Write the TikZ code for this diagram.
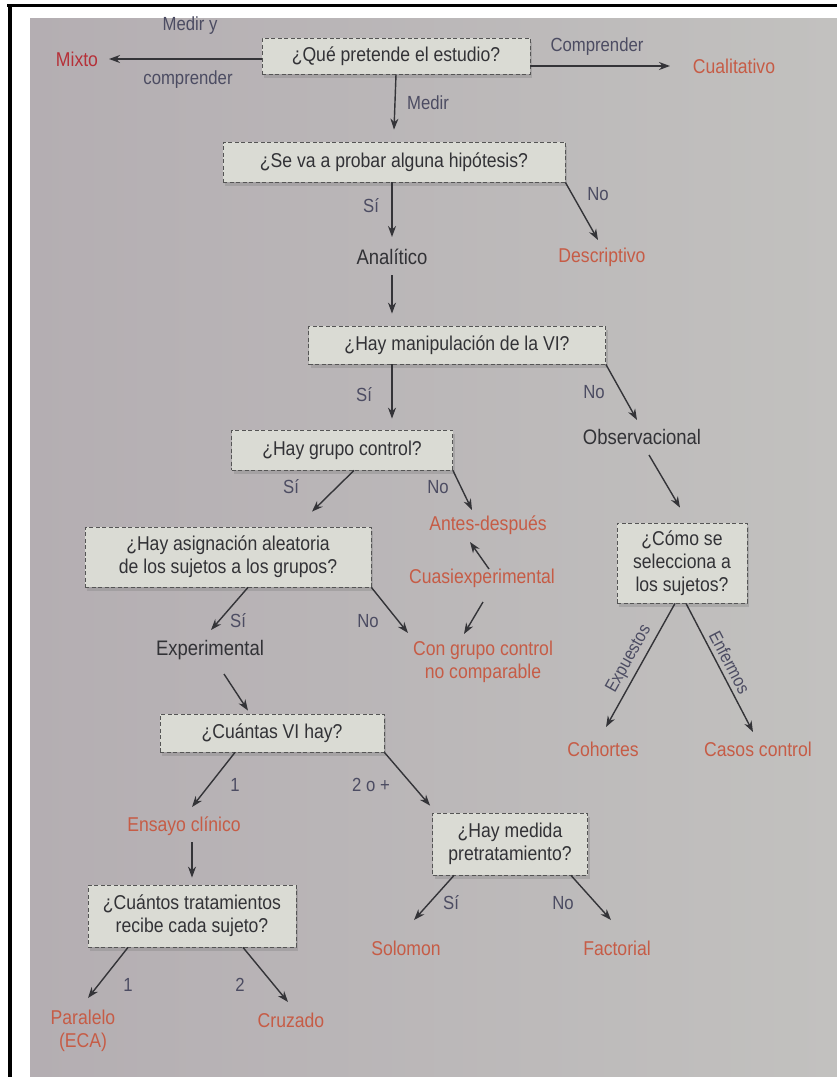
\documentclass[tikz,border=0pt]{standalone}
\usepackage{fontspec}
\setmainfont{Liberation Sans}[FakeStretch=0.88]
\usetikzlibrary{arrows.meta,shadows,calc}
\definecolor{fondoizq}{RGB}{180,174,178}
\definecolor{fondoder}{RGB}{194,193,191}
\definecolor{caja}{RGB}{218,219,212}
\definecolor{borde}{RGB}{85,85,85}
\definecolor{tinta}{RGB}{50,50,54}
\definecolor{rojo}{RGB}{198,92,70}
\definecolor{rojomixto}{RGB}{182,48,56}
\definecolor{rama}{RGB}{76,76,98}
\definecolor{flechagris}{RGB}{52,52,56}
\begin{document}
\begin{tikzpicture}[x=1pt,y=-1pt,
	pregunta/.style={draw=borde,dash pattern=on 4pt off 2.5pt,line width=.8pt,fill=caja,align=center,text=tinta,font=\fontsize{20}{23}\selectfont,drop shadow={shadow xshift=2pt,shadow yshift=-4pt,opacity=.35}},
	tipo/.style={text=rojo,align=center,font=\fontsize{20}{23}\selectfont},
	clase/.style={text=tinta,font=\fontsize{21}{23}\selectfont},
	rotulo/.style={text=rama,font=\fontsize{19}{21}\selectfont},
	flecha/.style={draw=flechagris,line width=1.4pt,-{Stealth[length=11pt,width=8pt]}}]
	\useasboundingbox (0,0) rectangle (837,1077);
	\fill[white] (0,0) rectangle (837,1077);
	\shade[left color=fondoizq,right color=fondoder] (30,18) rectangle (837,1077);
	\draw[line width=3pt] (7,5) -- (837,5);
	\draw[line width=4pt] (9.5,5) -- (9.5,1077);

	\node[pregunta,minimum width=268,minimum height=36] (q1) at (396,56) {¿Qué pretende el estudio?};
	\node[pregunta,minimum width=342,minimum height=40] (q2) at (394,162) {¿Se va a probar alguna hipótesis?};
	\node[pregunta,minimum width=297,minimum height=38] (q3) at (457,345) {¿Hay manipulación de la VI?};
	\node[pregunta,minimum width=221,minimum height=40] (q4) at (342,450) {¿Hay grupo control?};
	\node[pregunta,minimum width=286,minimum height=60] (q5) at (228,557) {¿Hay asignación aleatoria\\de los sujetos a los grupos?};
	\node[pregunta,minimum width=130,minimum height=80] (q6) at (682,563) {¿Cómo se\\selecciona a\\los sujetos?};
	\node[pregunta,minimum width=224,minimum height=38] (q7) at (272,733) {¿Cuántas VI hay?};
	\node[pregunta,minimum width=155,minimum height=62] (q8) at (510,844) {¿Hay medida\\pretratamiento?};
	\node[pregunta,minimum width=208,minimum height=62] (q9) at (192,916) {¿Cuántos tratamientos\\recibe cada sujeto?};

	\node[tipo,text=rojomixto] (mixto) at (77,59) {Mixto};
	\node[tipo] (cual) at (734,66) {Cualitativo};
	\node[tipo] (desc) at (602,257) {Descriptivo};
	\node[tipo] (antes) at (488,525) {Antes-después};
	\node[tipo] (cuasi) at (482,578) {Cuasiexperimental};
	\node[tipo] (con) at (483,662) {Con grupo control\\no comparable};
	\node[tipo] (coh) at (603,749) {Cohortes};
	\node[tipo] (cas) at (758,749) {Casos control};
	\node[tipo] (ens) at (184,826) {Ensayo clínico};
	\node[tipo] (sol) at (406,948) {Solomon};
	\node[tipo] (fac) at (617,948) {Factorial};
	\node[tipo] (par) at (83,1031) {Paralelo\\(ECA)};
	\node[tipo] (cru) at (291,1020) {Cruzado};

	\node[clase] (anal) at (392,257) {Analítico};
	\node[clase] (obs) at (642,437) {Observacional};
	\node[clase] (exp) at (210,650) {Experimental};

	\node[rotulo] (lmedy) at (190,26) {Medir y};
	\node[rotulo] (lcomp) at (188,80) {comprender};
	\node[rotulo] (lcompr) at (597,47) {Comprender};
	\node[rotulo] (lmedir) at (428,103) {Medir};
	\node[rotulo] (lsi1) at (371,206) {Sí};
	\node[rotulo] (lno1) at (598,194) {No};
	\node[rotulo] (lsi2) at (364,395) {Sí};
	\node[rotulo] (lno2) at (594,392) {No};
	\node[rotulo] (lsi3) at (291,487) {Sí};
	\node[rotulo] (lno3) at (438,487) {No};
	\node[rotulo] (lsi4) at (238,621) {Sí};
	\node[rotulo] (lno4) at (368,621) {No};
	\node[rotulo] (luna) at (235,785) {1};
	\node[rotulo] (ldos) at (371,785) {2 o +};
	\node[rotulo] (lsi5) at (451,903) {Sí};
	\node[rotulo] (lno5) at (563,903) {No};
	\node[rotulo] (lun) at (128,985) {1};
	\node[rotulo] (ldoble) at (240,985) {2};

	\draw[flecha] ($(q1.west)+(0,3)$) -- ($(mixto)+(32,0)$);
	\draw[flecha] ($(q1.east)+(0,10)$) -- ($(cual)+(-64,0)$);
	\draw[flecha] (q1.south) -- ($(q2.north)+(0,-12)$);
	\draw[flecha] (q2.south -| anal) -- ($(anal)+(0,-20)$);
	\draw[flecha] (q2.south east) -- ($(desc)+(-4,-17)$);
	\draw[flecha] ($(anal)+(0,18)$) -- ($(q3.north -| anal)+(0,-12)$);
	\draw[flecha] (q3.south -| anal) -- ($(q4.north -| anal)+(0,-11)$);
	\draw[flecha] (q3.south east) -- ($(obs)+(-5,-17)$);
	\draw[flecha] ($(obs)+(7,18)$) -- ($(q6.north)+(-2,-15)$);
	\draw[flecha] ($(q4.south)+(12,0)$) -- ($(q5.north)+(84,-15)$);
	\draw[flecha] (q4.south east) -- ($(antes)+(-16,-15)$);
	\draw[flecha] ($(cuasi)+(7,-9)$) -- ($(antes)+(-18,17)$);
	\draw[flecha] ($(cuasi)+(1,24)$) -- ($(con)+(-19,-28)$);
	\draw[flecha] ($(q5.south)+(20,0)$) -- ($(exp)+(1,-20)$);
	\draw[flecha] (q5.south east) -- ($(con)+(-75,-29)$);
	\draw[flecha] ($(exp)+(14,24)$) -- ($(q7.north)+(-24,-3)$);
	\draw[flecha] ($(q7.south)+(-37,0)$) -- ($(ens)+(8,-19)$);
	\draw[flecha] (q7.south east) -- ($(q8.north west)+(-2,-7)$);
	\draw[flecha] ($(ens -| q9)+(0,16)$) -- ($(q9.north)+(0,-7)$);
	\draw[flecha] ($(q8.south)+(-56,0)$) -- ($(sol)+(8,-28)$);
	\draw[flecha] ($(q8.south)+(61,0)$) -- ($(fac)+(-6,-28)$);
	\draw[flecha] ($(q9.south)+(-64,0)$) -- ($(par)+(5,-33)$);
	\draw[flecha] ($(q9.south)+(51,0)$) -- ($(cru)+(-3,-18)$);
	\draw[flecha] ($(q6.south)+(-7,0)$) -- ($(coh)+(3,-22)$) node[rotulo,font=\fontsize{18}{20}\selectfont,midway,sloped,above=1pt] (lexpuestos) {Expuestos};
	\draw[flecha] ($(q6.south)+(4,0)$) -- ($(cas)+(-5,-17)$) node[rotulo,font=\fontsize{18}{20}\selectfont,midway,sloped,above=1pt] (lenfermos) {Enfermos};
\end{tikzpicture}
\end{document}
